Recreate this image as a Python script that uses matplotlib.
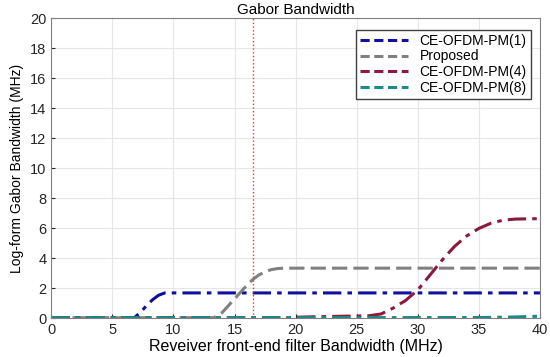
import numpy as np
from matplotlib import pyplot as plt

plt.rcParams['font.family'] = ['Liberation Sans', 'DejaVu Sans']

# values
x_pm1 = [0, 6.8, 7.3, 7.8, 8.3, 8.8, 9.3, 10, 40]
y_pm1 = [0.05, 0.05, 0.4, 0.85, 1.25, 1.55, 1.7, 1.7, 1.7]

x_prop = [0, 13.3, 14, 15, 16, 16.5, 17, 17.5, 18, 18.5, 19, 20, 40]
y_prop = [0.05, 0.05, 0.4, 1.3, 2.2, 2.6, 2.9, 3.1, 3.25, 3.32, 3.35, 3.35, 3.35]

x_pm4 = [0, 19.5, 20, 22, 24, 26, 27, 28, 29, 30, 31, 32, 33, 34, 35, 36, 37, 38, 40]
y_pm4 = [0.05, 0.05, 0.08, 0.12, 0.15, 0.18, 0.3, 0.7, 1.2, 1.9, 2.9, 3.9, 4.8,
         5.5, 6.0, 6.35, 6.55, 6.62, 6.65]

x_pm8 = [0, 35, 38, 40]
y_pm8 = [0.05, 0.06, 0.1, 0.15]

cutoff = 16.5

fig = plt.figure(figsize=(5.5, 3.57), dpi=100)
ax = fig.add_axes([0.093, 0.108, 0.889, 0.841])

ax.plot(x_pm1, y_pm1, color='#1010a0', linestyle=(0, (6, 2, 1.5, 2)), lw=2.2, label='CE-OFDM-PM(1)')
ax.plot(x_prop, y_prop, color='#808080', linestyle=(0, (5, 2)), lw=2.2, label='Proposed')
ax.plot(x_pm4, y_pm4, color='#8b1a3c', linestyle=(0, (6, 2, 1.5, 2)), lw=2.2, label='CE-OFDM-PM(4)')
ax.plot(x_pm8, y_pm8, color='#1a8a8a', linestyle=(0, (6, 2, 1.5, 2)), lw=2.2, label='CE-OFDM-PM(8)')
ax.axvline(cutoff, color='#d04040', linestyle=':', lw=1)

ax.set_xlim(0, 40)
ax.set_ylim(0, 20)
ax.set_xticks(np.arange(0, 41, 5))
ax.set_yticks(np.arange(0, 21, 2))
ax.tick_params(labelsize=10.5, direction='in', length=3, colors='#262626')
ax.grid(color='#e6e6e6', linestyle='-', lw=0.8)
for s in ax.spines.values():
    s.set_color('#808080')

ax.set_xlabel('Reveiver front-end filter Bandwidth (MHz)', fontsize=11.5, labelpad=1)
ax.set_ylabel('Log-form Gabor Bandwidth (MHz)', fontsize=10, labelpad=4)
ax.set_title('Gabor Bandwidth', fontsize=11, pad=3)

leg = ax.legend(loc='upper right', fontsize=10, handlelength=3.5, framealpha=1,
                fancybox=False, edgecolor='#404040', borderpad=0.3, labelspacing=0.12,
                bbox_to_anchor=(0.995, 0.985))
for h in leg.get_lines():
    h.set_linestyle((0, (3, 1.5)))

plt.savefig('out.png')
